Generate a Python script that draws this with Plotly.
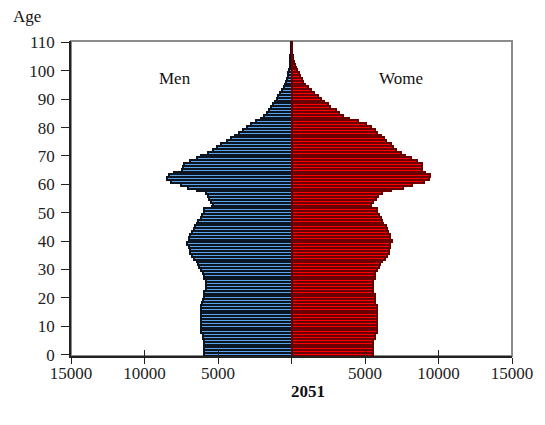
import plotly.graph_objects as go

# 연령별 인구 (2051 전망) - 0세 ~ 110세
ages = list(range(0, 111))

men = [
    5950, 5950, 5950, 5950, 5950, 5950, 6010, 6010, 6150, 6150,   # 0-9
    6150, 6150, 6150, 6150, 6150, 6150, 6150, 6150, 6100, 6010,   # 10-19
    5980, 5950, 5950, 5850, 5810, 5810, 5840, 5930, 5950, 6010,   # 20-29
    6150, 6280, 6390, 6460, 6640, 6780, 6900, 6930, 6950, 7080,   # 30-39
    6970, 6950, 6880, 6750, 6650, 6550, 6450, 6390, 6150, 6060,   # 40-49
    5950, 5950, 5380, 5350, 5500, 5600, 5650, 5800, 6450, 7050,   # 50-59
    7550, 8200, 8450, 8350, 8000, 7450, 7350, 7280, 6900, 6450,   # 60-69
    6150, 5700, 5350, 5100, 4800, 4400, 4100, 3850, 3600, 3300,   # 70-79
    3050, 2750, 2400, 2050, 1850, 1700, 1550, 1380, 1250, 1110,   # 80-89
    1000, 900, 780, 650, 500, 420, 360, 310, 260, 210,            # 90-99
    170, 130, 110, 90, 80, 70, 60, 50, 40, 30,                    # 100-109
    20,                                                           # 110
]

women = [
    5520, 5520, 5520, 5520, 5520, 5560, 5660, 5660, 5790, 5790,   # 0-9
    5790, 5790, 5790, 5790, 5790, 5790, 5790, 5790, 5700, 5660,   # 10-19
    5660, 5660, 5550, 5550, 5520, 5520, 5520, 5650, 5680, 5680,   # 20-29
    5790, 5920, 6010, 6150, 6330, 6520, 6600, 6650, 6700, 6700,   # 30-39
    6820, 6700, 6680, 6560, 6480, 6400, 6250, 6190, 6100, 5970,   # 40-49
    5800, 5790, 5410, 5420, 5550, 5750, 5850, 6150, 6800, 7600,   # 50-59
    8200, 9000, 9350, 9450, 9100, 8870, 8850, 8850, 8550, 8100,   # 60-69
    7750, 7450, 7100, 6900, 6800, 6450, 6300, 6100, 5800, 5650,   # 70-79
    5400, 5050, 4550, 3900, 3500, 3250, 3050, 2650, 2450, 2200,   # 80-89
    2000, 1800, 1500, 1330, 1100, 950, 780, 700, 600, 480,        # 90-99
    400, 320, 240, 170, 110, 70, 45, 30, 20, 15,                  # 100-109
    10,                                                           # 110
]

x_ticks = [-15000, -10000, -5000, 0, 5000, 10000, 15000]
x_tick_text = ["15000", "10000", "5000", "", "5000", "10000", "15000"]
y_ticks = list(range(0, 111, 10))

FONT = "Liberation Serif"

fig = go.Figure()
fig.add_trace(go.Bar(
    y=ages, x=[-v for v in men], orientation="h", name="Men",
    marker=dict(color="#5BA3E6", line=dict(color="#0B1622", width=2)),
))
fig.add_trace(go.Bar(
    y=ages, x=women, orientation="h", name="Women",
    marker=dict(color="#FF0000", line=dict(color="#6A0000", width=2)),
))

# 회색 플롯 영역 테두리 (Excel 스타일)
fig.add_shape(type="rect", xref="paper", yref="paper", x0=0, y0=0, x1=1, y1=1,
              line=dict(color="#8C8C8C", width=2), layer="below")

fig.update_layout(
    width=545, height=425,
    margin=dict(l=71, r=28, t=41, b=69),
    barmode="overlay", bargap=0,
    showlegend=False,
    plot_bgcolor="white", paper_bgcolor="white",
    font=dict(family=FONT, size=17, color="#222222"),
    xaxis=dict(
        range=[-15000, 15000], tickvals=x_ticks, ticktext=x_tick_text,
        ticks="outside", ticklen=6, tickcolor="#222222",
        showline=True, linecolor="#222222", linewidth=1.5,
        showgrid=False, zeroline=False, ticklabelstandoff=-5,
    ),
    # 축을 가로지르는 눈금 표시용 보조 축
    xaxis2=dict(
        range=[-15000, 15000], tickvals=x_ticks, overlaying="x", anchor="y",
        side="bottom", ticks="inside", ticklen=6, tickcolor="#222222",
        showticklabels=False, showgrid=False, zeroline=False, showline=False,
    ),
    yaxis=dict(
        range=[-0.5, 110.5], tickvals=y_ticks,
        ticks="outside", ticklen=8, tickcolor="#222222",
        showline=True, linecolor="#222222", linewidth=1.5,
        showgrid=False, zeroline=False, ticklabelstandoff=3,
    ),
)

# 보조 축을 활성화하기 위한 빈 트레이스
fig.add_trace(go.Scatter(x=[], y=[], xaxis="x2", showlegend=False))

labels = [
    ("Age", -0.099, 1.079),
    ("Men", 0.235, 0.882),
    ("Wome", 0.749, 0.882),
    ("<b>2051</b>", 0.538, -0.112),
]
for text, lx, ly in labels:
    fig.add_annotation(text=text, xref="paper", yref="paper", x=lx, y=ly,
                       xanchor="center", yanchor="middle", showarrow=False,
                       font=dict(size=17, color="#111111"))

# 페이지 기본 여백 제거, 모드바 숨김
fig.write_html("out.html", config={"displayModeBar": False},
               post_script="document.body.style.margin='0';")
